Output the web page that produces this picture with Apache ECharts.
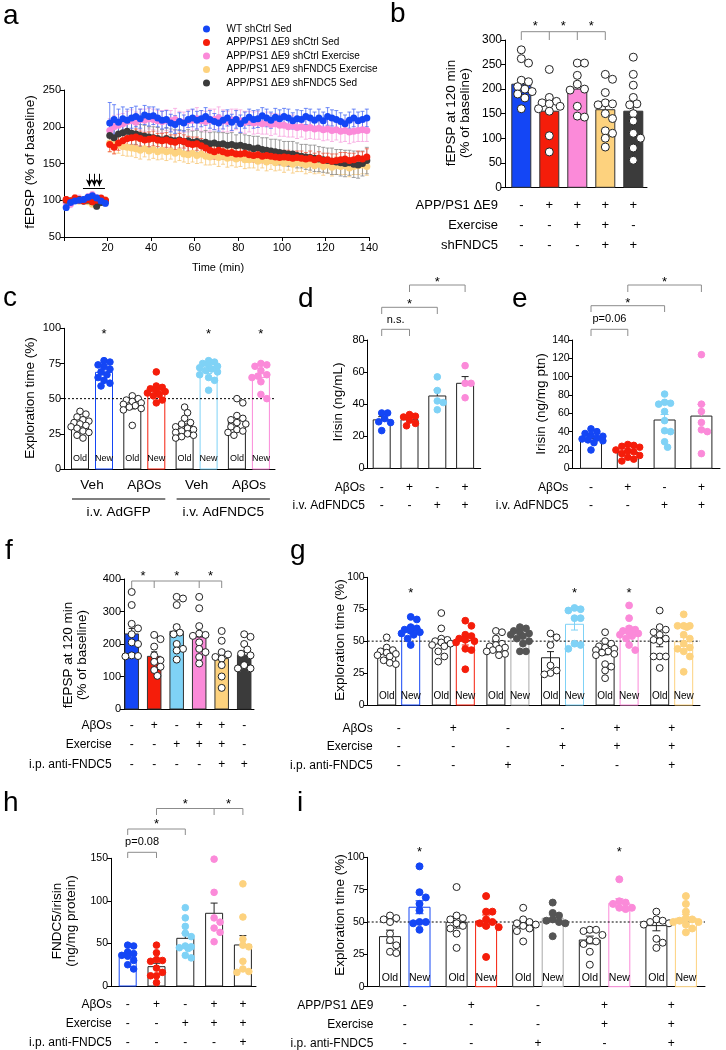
<!DOCTYPE html>
<html><head><meta charset="utf-8">
<script src="https://cdn.jsdelivr.net/npm/echarts@6/dist/echarts.min.js"></script>
<style>html,body{margin:0;padding:0;background:#fff}#c{width:726px;height:1050px}</style>
</head><body><div id="c"></div>
<script>
// ================= DATA =================
// Panel a: fEPSP time course (% of baseline)
const aNames = ['WT shCtrl Sed','APP/PS1 ΔE9 shCtrl Sed','APP/PS1 ΔE9 shCtrl Exercise','APP/PS1 ΔE9 shFNDC5 Exercise','APP/PS1 ΔE9 shFNDC5 Sed'];
const aTime = [1,3,5,7,9,11,13,15,17,19,
 21,23,25,27,29,31,33,35,37,39,41,43,45,47,49,51,53,55,57,59,
 61,63,65,67,69,71,73,75,77,79,81,83,85,87,89,91,93,95,97,99,
 101,103,105,107,109,111,113,115,117,119,121,123,125,127,129,131,133,135,137,139];
const aWT = [90,97,99,100,101,104,106,103,99,96,
 205,210,206,211,209,212,214,211,216,214,
 215,212,209,210,205,203,207,205,210,212,
 209,211,214,210,207,205,209,212,206,210,
 204,209,213,210,211,215,212,209,213,211,
 214,212,208,211,210,214,212,209,212,208,
 214,212,210,207,204,209,212,208,210,212];
const aWTsem = [4,4,3,3,4,3,4,4,3,4,
 28,20,18,16,15,14,14,13,13,13,
 12,12,12,12,12,12,12,11,11,12,
 12,11,12,12,11,11,12,11,11,12,
 12,11,11,12,12,11,12,11,12,12,
 11,12,11,12,12,11,12,11,12,12,
 12,11,12,12,12,11,12,12,11,12];
const aAD = [101,99,103,100,99,101,98,100,103,100,
 176,172,178,181,184,185,186,184,182,183,
 184,182,181,182,180,179,181,180,177,176,
 177,174,171,168,166,168,166,164,165,163,
 163,164,162,161,162,160,161,160,159,158,
 159,158,157,158,157,156,157,155,157,154,
 155,153,154,155,156,154,155,157,156,159];
const aADsem = [4,3,4,3,3,4,3,4,3,4,
 10,9,10,11,10,10,11,10,10,10,
 10,9,10,10,9,10,10,9,10,10,
 9,10,10,9,10,9,10,9,10,9,
 9,10,9,9,10,9,9,10,9,9,
 9,10,9,9,10,9,10,9,9,10,
 9,10,9,10,9,10,9,10,10,11];
const aADEx = [97,95,100,102,99,104,107,103,101,98,
 195,200,202,204,207,208,206,210,209,211,
 210,208,207,209,208,210,207,206,208,209,
 211,208,207,209,210,212,208,207,209,210,
 208,206,207,205,206,204,205,203,204,202,
 202,200,201,199,200,198,199,197,198,196,
 197,195,196,194,195,193,194,195,196,195];
const aADExSem = [5,5,4,5,4,5,5,4,5,5,
 16,15,15,14,14,15,14,14,15,14,
 14,14,15,14,14,15,14,14,15,14,
 15,14,14,15,14,15,15,14,15,14,
 15,15,14,15,15,14,15,15,14,15,
 15,14,15,15,14,15,15,14,15,15,
 15,15,14,15,15,16,15,15,16,15];
const aShEx = [100,98,101,99,100,98,95,93,97,100,
 178,176,175,173,172,171,170,168,170,167,
 169,166,168,166,167,164,166,163,162,164,
 161,163,160,159,161,158,160,157,159,156,
 158,155,155,156,153,155,152,154,151,153,
 150,152,149,151,150,148,150,147,149,146,
 148,145,147,146,147,144,146,147,148,146];
const aShExSem = [4,4,3,4,4,3,4,4,3,4,
 12,12,11,12,12,11,12,12,11,12,
 12,11,12,12,11,12,12,11,12,12,
 11,12,12,11,12,12,11,12,12,11,
 12,12,11,12,12,11,12,12,11,12,
 12,11,12,12,11,12,12,11,12,12,
 11,12,12,11,12,12,11,12,12,12];
const aShSed = [100,99,100,101,99,100,98,92,97,99,
 188,185,190,192,194,191,190,188,187,186,
 185,184,182,184,182,181,182,180,181,179,
 180,178,179,177,178,176,177,175,176,174,
 175,173,172,170,171,169,168,167,166,165,
 164,163,163,161,160,159,158,157,156,155,
 154,153,152,151,150,151,149,148,150,154];
const aShSedSem = [4,4,4,3,4,4,3,4,4,4,
 14,14,15,14,14,15,14,15,15,14,
 15,15,14,15,15,15,14,15,15,15,
 15,15,16,15,15,16,15,16,16,15,
 16,16,16,17,16,16,17,16,17,17,
 16,17,17,17,16,17,17,18,17,17,
 17,18,17,18,18,17,18,18,17,18];
const aStimTimes = [11.6, 13.9, 16.2];
const aStimBar = [8.7, 18.8];

// Panel b
const bRowNames = ['APP/PS1 ΔE9','Exercise','shFNDC5'];
const bRows = [['-','+','+','+','+'],['-','-','+','+','-'],['-','-','-','+','+']];
const bMeans = [210, 155, 200, 158, 155];
const bSem = [11, 15, 14, 13, 15];
const bPoints = [
 [280,262,253,218,215,205,200,195,190,182,160],
 [240,183,175,172,170,165,160,155,105,72],
 [253,253,228,210,200,198,165,145,143],
 [230,220,193,172,170,168,150,140,115,110,100,82],
 [265,230,208,183,170,168,150,135,110,100,80,55]];

// Panel c
const cBarLabels = ['Old','New','Old','New','Old','New','Old','New'];
const cGroupNames = ['Veh','AβOs','Veh','AβOs'];
const cTreatNames = ['i.v. AdGFP','i.v. AdFNDC5'];
const cMeans = [31.5, 68.7, 44.3, 55.4, 30.4, 69.6, 34.4, 65.1];
const cSem = [1.5, 1.8, 1.6, 1.7, 1.6, 1.8, 2.2, 2.6];
const cPoints = [
 [41,39,37,35,34,33,32,31,30,29,27,26,24,22],
 [77,76,74,73,71,69,67,65,63,61,59],
 [52,50,49,48,47,46,45,44,43,42,31],
 [69,59,58,57,56,55,54,53,52,49,47],
 [44,40,36,33,32,30,29,28,27,26,25,24,23,22],
 [77,76,75,74,73,72,71,70,69,67,65,63,56],
 [50,47,38,36,35,33,32,30,28,27,26,24],
 [75,74,73,70,67,66,65,62,53,50]];

// Panel d
const dRowNames = ['AβOs','i.v. AdFNDC5'];
const dRows = [['-','+','-','+'],['-','-','+','+']];
const dMeans = [30.2, 30.3, 45.1, 53.0];
const dSem = [2.0, 1.5, 3.8, 4.2];
const dPoints = [[34.5,34.5,31,29,28.5,23.5],[33.5,32.5,32,30,28,26.5],[57,48.5,42,41,36.5],[64,53,53,44]];

// Panel e
const eRowNames = ['AβOs','i.v. AdFNDC5'];
const eRows = [['-','+','-','+'],['-','-','+','+']];
const eMeans = [32.7, 17.4, 52.7, 57.0];
const eSem = [2.0, 1.8, 6.0, 12.8];
const ePoints = [[43,40,38,36,35,33,32,31,30,28,20],[26,25,24,23,20,19,18,16,14,12,10,8],[81,72,71,70,62,52,41,40,29,23],[124,70,62,50,42,40,16]];

// Panel f
const fRowNames = ['AβOs','Exercise','i.p. anti-FNDC5'];
const fRows = [['-','+','-','+','+','-'],['-','-','+','+','+','-'],['-','-','-','-','+','+']];
const fMeans = [231, 162, 239, 221.5, 155, 166];
const fSem = [17, 14, 20, 17, 15, 12];
const fPoints = [
 [360,320,262,248,230,205,200,165,163,162],
 [228,215,192,165,150,145,130,120,102],
 [345,340,320,252,235,230,200,185,180,152],
 [345,310,255,232,228,225,205,185,175,160,140],
 [240,210,175,168,160,155,135,100,65],
 [230,222,200,183,170,165,135,125,125]];

// Panel g
const gBarLabels = ['Old','New','Old','New','Old','New','Old','New','Old','New','Old','New'];
const gRowNames = ['AβOs','Exercise','i.p. anti-FNDC5'];
const gRows = [['-','+','-','-','+','+'],['-','-','-','+','+','+'],['-','-','+','-','-','+']];
const gMeans = [41.2, 58.5, 50.1, 50.5, 47.5, 53.2, 37.0, 63.2, 41.8, 58.5, 50.1, 49.5];
const gSem = [2.0, 2.0, 2.5, 3.5, 1.8, 2.0, 4.8, 4.5, 2.5, 3.0, 4.5, 3.5];
const gPoints = [
 [53,45,43,42,41,40,39,38,35,33,32],
 [69,67,61,60,59,58,57,56,55,52,47],
 [72,60,52,51,50,49,48,47,46,42,38,34],
 [66,62,55,54,52,51,50,49,44,43,28],
 [58,57,52,48,47,46,45,44,43,42,40,39],
 [61,60,58,57,56,55,54,52,50,48,42,42],
 [56,53,47,31,27,25,24],
 [76,75,74,68,68,48,47,44],
 [57,50,48,46,45,44,43,42,41,40,39,32,30,27,21],
 [78,68,60,59,58,57,56,55,54,52,47,43],
 [74,61,59,57,55,52,51,50,38,38,38,29],
 [71,62,62,62,61,55,52,48,45,44,42,38,26]];

// Panel h
const hRowNames = ['AβOs','Exercise','i.p. anti-FNDC5'];
const hRows = [['-','+','-','+','+'],['-','-','+','+','+'],['-','-','-','-','+']];
const hMeans = [33.7, 22.7, 56.0, 85.4, 48.2];
const hSem = [3.4, 4.0, 6.0, 12.0, 11.0];
const hPoints = [
 [48,47,40,38,36,35,30,25,20],
 [48,39,31,30,29,21,16,12,12,4],
 [92,80,70,62,58,47,46,45,44,36,33],
 [149,110,80,75,68,63,52],
 [120,81,55,48,46,29,20,17,16]];

// Panel i
const iBarLabels = ['Old','New','Old','New','Old','New','Old','New','Old','New'];
const iRowNames = ['APP/PS1 ΔE9','Exercise','i.p. anti-FNDC5'];
const iRows = [['-','+','-','+','+'],['-','-','-','+','+'],['-','-','+','-','+']];
const iMeans = [38.7, 61.4, 49.8, 50.8, 47.7, 52.9, 36.1, 64.5, 47.2, 52.9];
const iSem = [5.0, 5.0, 4.5, 4.6, 2.5, 2.5, 3.0, 3.5, 4.0, 3.0];
const iPoints = [
 [55,53,52,50,41,36,32,27,26],
 [93,73,69,64,59,50,50,49,44],
 [77,55,53,52,49,47,45,41,30],
 [70,58,58,52,50,49,47,46,23],
 [61,52,50,49,48,47,45,43,35],
 [65,57,55,52,51,50,49,39],
 [44,44,43,40,36,35,33,27,17],
 [83,66,65,64,61,61,60],
 [58,52,51,50,49,48,37,34,30],
 [70,64,58,53,52,51,50,50,48,45,42]];
const chanceLevel = 50;

// ================= STYLE / LAYOUT =================
const FF = '"Liberation Sans", Arial, Helvetica, sans-serif';
const BLUE='#1446f5', RED='#f51d0a', PINK='#fb8ad9', ORANGE='#fdd27e', DGREY='#3b3b3b',
      LBLUE='#7fd2f6', MGREY='#555555', LGREYO='#a8a8a8', K='#222222', W='#ffffff', BRK='#8c8c8c';

const grids=[], xAxes=[], yAxes=[], series=[], graphics=[];

function T(x,y,text,size,align,extra){
  return Object.assign({type:'text',x:x,y:y,silent:true,
    style:{text:text,fill:'#000',fontSize:size,fontFamily:FF,textAlign:align||'center',textVerticalAlign:'middle'}}, extra||{});
}
function L(x1,y1,x2,y2,c,w){return {type:'line',silent:true,shape:{x1:x1,y1:y1,x2:x2,y2:y2},style:{stroke:c,lineWidth:w||1}};}

function axisStyle(fs){
  return {
    axisLine:{show:true,onZero:false,lineStyle:{color:'#000',width:1}},
    axisTick:{show:true,length:4,lineStyle:{color:'#000',width:1}},
    axisLabel:{show:true,fontSize:fs,color:'#000',margin:3,fontFamily:FF},
    splitLine:{show:false}
  };
}

// beeswarm layout (pixel offsets), kept within about the bar width
function swarm(vals, ppu, r, half){
  const placed=[], offs=new Array(vals.length);
  const order = vals.map((v,k)=>k).sort((a,b)=>vals[b]-vals[a]);
  const d = 2*r*0.9, st = d*0.5;
  order.forEach(k=>{
    const y = vals[k]*ppu;
    let best = 0, bestScore = -1;
    for(let t=0;t<40;t++){
      const cand = t===0?0:((t%2)?1:-1)*Math.ceil(t/2)*st;
      if(Math.abs(cand) > half) break;
      let minD = Infinity;
      placed.forEach(p=>{ const q=Math.hypot(p.x-cand,p.y-y); if(q<minD) minD=q; });
      if(minD >= d){ best=cand; break; }
      if(minD > bestScore + 0.5){ bestScore=minD; best=cand; }
    }
    placed.push({x:best,y:y}); offs[k]=best;
  });
  return offs;
}

// ---------- Panel a ----------
(function(){
  const gi = grids.length;
  grids.push({left:64, top:90, width:305, height:147});
  const xs = axisStyle(11); xs.axisLabel.formatter = v => v===0 ? '' : String(v); xs.axisLabel.margin = 5;
  xAxes.push(Object.assign({gridIndex:gi,type:'value',min:0,max:140,interval:20}, xs));
  yAxes.push(Object.assign({gridIndex:gi,type:'value',min:50,max:250,interval:50}, axisStyle(11)));
  const sets = [
    {name:aNames[3], v:aShEx, s:aShExSem, color:ORANGE, err:'#f8c878', z:3},
    {name:aNames[2], v:aADEx, s:aADExSem, color:PINK, err:'#f7a3e0', z:4},
    {name:aNames[4], v:aShSed, s:aShSedSem, color:DGREY, err:'#8a8a8a', z:5},
    {name:aNames[1], v:aAD, s:aADsem, color:RED, err:'#f2553f', z:6},
    {name:aNames[0], v:aWT, s:aWTsem, color:BLUE, err:'#4a6cf5', z:7}
  ];
  sets.forEach(S=>{
    series.push({type:'custom', name:S.name+' SEM', xAxisIndex:gi, yAxisIndex:gi, z:1, silent:true, clip:false,
      data: aTime.map((t,k)=>[t, S.v[k], S.s[k]]),
      renderItem:(p,api)=>{
        const t=api.value(0), m=api.value(1), s=api.value(2);
        const a=api.coord([t,m+s]), b=api.coord([t,m-s]);
        return {type:'group',children:[L(a[0],a[1],b[0],b[1],S.err,0.8),L(a[0]-2,a[1],a[0]+2,a[1],S.err,0.8),L(b[0]-2,b[1],b[0]+2,b[1],S.err,0.8)]};
      }});
  });
  sets.forEach(S=>{
    const sr = {type:'scatter', name:S.name, xAxisIndex:gi, yAxisIndex:gi, z:S.z, symbol:'circle', symbolSize:7,
      itemStyle:{color:S.color, opacity:1}, data: aTime.map((t,k)=>[t, S.v[k]])};
    if(S.name===aNames[0]){
      sr.markLine = {silent:true, animation:false, symbol:['none','arrow'], symbolSize:[5,7], label:{show:false},
        lineStyle:{color:'#000', width:1, type:'solid'},
        data:[[{coord:[aStimBar[0],117],symbol:'none'},{coord:[aStimBar[1],117],symbol:'none'}]]
          .concat(aStimTimes.map(t=>[{coord:[t,136]},{coord:[t,119]}]))};
    }
    series.push(sr);
  });
  graphics.push(T(30,162,'fEPSP (% of baseline)',13.5,'center',{rotation:Math.PI/2}));
  graphics.push(T(218,268,'Time (min)',11));
})();

// ---------- generic bar panel ----------
function barPanel(P){
  const gi = grids.length;
  grids.push({left:P.x0, top:P.yTop, width:P.x1-P.x0, height:P.yBot-P.yTop});
  const pos = P.means.map((_,i)=> P.paired ? Math.floor(i/2)*(P.pairStep/P.step)+(i%2) : i);
  const xmin=(P.x0-P.c0)/P.step, xmax=(P.x1-P.c0)/P.step;
  const xs = axisStyle(10); xs.axisTick.show=false; xs.axisLabel.show=false;
  xAxes.push(Object.assign({gridIndex:gi,type:'value',min:xmin,max:xmax,position:'bottom'}, xs));
  yAxes.push(Object.assign({gridIndex:gi,type:'value',min:P.min,max:P.max,interval:P.interval,position:'left'}, axisStyle(P.tickFont)));
  const base = {xAxisIndex:gi, yAxisIndex:gi, silent:true, clip:false};
  // bars
  series.push(Object.assign({type:'custom', z:2, data:P.means.map((m,i)=>[pos[i],m,i]),
    renderItem:(p,api)=>{
      const i=api.value(2), top=api.coord([api.value(0),api.value(1)]), bot=api.coord([api.value(0),P.min]);
      const ch=[{type:'rect',shape:{x:top[0]-P.barW/2,y:top[1],width:P.barW,height:bot[1]-top[1]},
        style:{fill:P.fills[i],stroke:P.strokes[i],lineWidth:1}}];
      if(P.labels) ch.push(T(top[0], P.labelY, P.labels[i], P.labelFont));
      return {type:'group',children:ch};
    }}, base));
  // reference line
  if(P.refLine!=null){
    series.push({type:'line', xAxisIndex:gi, yAxisIndex:gi, z:3, silent:true, symbol:'none', animation:false,
      data:[[xmin,P.refLine],[xmax,P.refLine]], lineStyle:{color:'#000',width:1,type:[2,2]}});
  }
  // error bars
  series.push(Object.assign({type:'custom', z:4, data:P.means.map((m,i)=>[pos[i],m,P.sems[i],i]),
    renderItem:(p,api)=>{
      const x=api.value(0), m=api.value(1), s=api.value(2), i=api.value(3);
      const pm=api.coord([x,m]), pt=api.coord([x,m+s]), pb=api.coord([x,m-s]);
      const col=P.errColor[i], cw=P.capW/2;
      const ch=[L(pm[0],pt[1],pm[0],P.errDir==='both'?pb[1]:pm[1],col), L(pm[0]-cw,pt[1],pm[0]+cw,pt[1],col)];
      if(P.errDir==='both') ch.push(L(pm[0]-cw,pb[1],pm[0]+cw,pb[1],col));
      return {type:'group',children:ch};
    }}, base));
  // dots
  const ppu=(P.yBot-P.yTop)/(P.max-P.min);
  const dd=[];
  P.points.forEach((arr,i)=>{ const offs=swarm(arr,ppu,P.r,P.barW/2+P.r*0.8); arr.forEach((v,k)=>dd.push([pos[i],v,offs[k],i])); });
  series.push(Object.assign({type:'custom', z:5, data:dd,
    renderItem:(p,api)=>{
      const c=api.coord([api.value(0),api.value(1)]), i=api.value(3);
      return {type:'circle',shape:{cx:c[0]+api.value(2),cy:c[1],r:P.r},style:{fill:P.dotFill[i],stroke:P.dotStroke[i],lineWidth:1}};
    }}, base));
  // annotations: brackets, stars, table
  series.push(Object.assign({type:'custom', z:6, data:[[pos[0],P.min]],
    renderItem:(p,api)=>{
      const X = i => api.coord([pos[i],P.min])[0];
      const ch=[];
      (P.brackets||[]).forEach(b=>{
        const xs=b.drops.map(X);
        ch.push(L(xs[0],b.y,xs[xs.length-1],b.y,BRK));
        xs.forEach(x=>ch.push(L(x,b.y,x,b.dropTo,BRK)));
        b.labels.forEach((t,k)=>{
          const xm=(xs[k]+xs[k+1])/2;
          ch.push(t==='*' ? T(xm,b.labelY+3,t,13) : T(xm,b.labelY,t,11));
        });
      });
      if(P.stars) P.stars.idx.forEach(i=>ch.push(T(X(i),P.stars.y+3,'*',13)));
      if(P.rows){
        P.rows.forEach((row,r)=>row.forEach((s,c)=>{
          const x = P.paired ? (X(2*c)+X(2*c+1))/2 : X(c);
          ch.push(T(x,P.rowY[r],s,P.rowFont));
        }));
        P.rowNames.forEach((nm,r)=>ch.push(T(P.rowLabelX,P.rowY[r],nm,P.rowFont,'right')));
      }
      return {type:'group',children:ch};
    }}, base));
  // y label
  graphics.push(T(P.ylabelX,P.ylabelY,P.ylabel,P.ylabelFont||13.5,'center',{rotation:Math.PI/2,style:{text:P.ylabel,fill:'#000',fontSize:P.ylabelFont||13.5,fontFamily:FF,textAlign:'center',textVerticalAlign:'middle',textLineHeight:14}}));
  return pos;
}

const rep = (v,n)=>Array.from({length:n},()=>v);

// b
barPanel({x0:505,x1:647,yTop:40,yBot:187.3,min:0,max:300,interval:50,c0:521.3,step:28,barW:19,capW:8,
  means:bMeans,sems:bSem,points:bPoints,fills:[BLUE,RED,PINK,ORANGE,DGREY],strokes:rep('#333',5),
  dotFill:rep(W,5),dotStroke:rep(K,5),r:4,errDir:'up',errColor:rep(K,5),tickFont:12,
  ylabel:'fEPSP at 120 min\n(% of baseline)',ylabelX:458.5,ylabelY:113,
  rows:bRows,rowNames:bRowNames,rowY:[205.7,225,245],rowLabelX:498,rowFont:13,
  brackets:[{drops:[0,1,2,3],y:31.7,dropTo:40,labels:['*','*','*'],labelY:23.3}]});

// c
barPanel({x0:64,x1:275,yTop:328.3,yBot:469,min:0,max:100,interval:25,c0:80,step:24,paired:true,pairStep:52.3,barW:17,capW:7,
  means:cMeans,sems:cSem,points:cPoints,fills:rep(W,8),
  strokes:[K,BLUE,K,RED,K,LBLUE,K,PINK],dotFill:[W,BLUE,W,RED,W,LBLUE,W,PINK],dotStroke:[K,BLUE,K,RED,K,LBLUE,K,PINK],
  r:3.3,errDir:'both',errColor:[K,BLUE,K,RED,K,LBLUE,K,PINK],tickFont:11,refLine:chanceLevel,
  labels:cBarLabels,labelY:459,labelFont:9,stars:{idx:[1,5,7],y:331.7},
  ylabel:'Exploration time (%)',ylabelX:30,ylabelY:398});
(function(){
  const pc = p => 80 + p*52.3 + 12;
  cGroupNames.forEach((g,p)=>graphics.push(T(pc(p),485,g,13.5)));
  cTreatNames.forEach((t,k)=>{
    const a=pc(2*k)-20, b=pc(2*k+1)+21;
    graphics.push(L(a,499,b,499,'#000',1.2));
    graphics.push(T((a+b)/2,512,t,13.5));
  });
})();

// d
barPanel({x0:367.7,x1:480.7,yTop:340,yBot:468.3,min:0,max:80,interval:20,c0:381.7,step:27.8,barW:17,capW:7,
  means:dMeans,sems:dSem,points:dPoints,fills:rep(W,4),strokes:rep(K,4),
  dotFill:[BLUE,RED,LBLUE,PINK],dotStroke:[BLUE,RED,LBLUE,PINK],r:3.3,errDir:'up',errColor:rep(K,4),tickFont:11,
  ylabel:'Irisin (ng/mL)',ylabelX:338.3,ylabelY:402,
  rows:dRows,rowNames:dRowNames,rowY:[487.3,506],rowLabelX:365,rowFont:12,
  brackets:[{drops:[0,1],y:329.3,dropTo:336,labels:['n.s.'],labelY:320},
            {drops:[0,2],y:307.3,dropTo:314,labels:['*'],labelY:301.7},
            {drops:[1,3],y:285,dropTo:292,labels:['*'],labelY:279}]});

// e
barPanel({x0:572.7,x1:720,yTop:340,yBot:468.3,min:0,max:140,interval:20,c0:591,step:36.8,barW:21,capW:8,
  means:eMeans,sems:eSem,points:ePoints,fills:rep(W,4),strokes:rep(K,4),
  dotFill:[BLUE,RED,LBLUE,PINK],dotStroke:[BLUE,RED,LBLUE,PINK],r:3.3,errDir:'up',errColor:[BLUE,RED,LBLUE,PINK],tickFont:10.5,
  ylabel:'Irisin (ng/mg ptn)',ylabelX:541.7,ylabelY:404,
  rows:eRows,rowNames:eRowNames,rowY:[487.3,506],rowLabelX:568.3,rowFont:12,
  brackets:[{drops:[0,1],y:329.3,dropTo:336,labels:['p=0.06'],labelY:319.3},
            {drops:[0,2],y:305.7,dropTo:312,labels:['*'],labelY:300},
            {drops:[1,3],y:285,dropTo:292,labels:['*'],labelY:279}]});

// f
barPanel({x0:124,x1:254,yTop:579,yBot:709,min:0,max:400,interval:100,c0:131.7,step:22.5,barW:13.5,capW:6,
  means:fMeans,sems:fSem,points:fPoints,fills:[BLUE,RED,LBLUE,PINK,ORANGE,DGREY],strokes:rep('#333',6),
  dotFill:rep(W,6),dotStroke:rep(K,6),r:3.5,errDir:'up',errColor:rep(K,6),tickFont:11,
  ylabel:'fEPSP at 120 min\n(% of baseline)',ylabelX:75,ylabelY:655,
  rows:fRows,rowNames:fRowNames,rowY:[726,745,764.5],rowLabelX:111.7,rowFont:12,
  brackets:[{drops:[0,1,3,4],y:581,dropTo:588,labels:['*','*','*'],labelY:573.3}]});

// g
barPanel({x0:367.7,x1:700,yTop:577.3,yBot:705,min:0,max:100,interval:25,c0:386.7,step:24,paired:true,pairStep:54.6,barW:18,capW:7,
  means:gMeans,sems:gSem,points:gPoints,fills:rep(W,12),
  strokes:[K,BLUE,K,RED,K,LGREYO,K,LBLUE,K,PINK,K,ORANGE],
  dotFill:[W,BLUE,W,RED,W,MGREY,W,LBLUE,W,PINK,W,ORANGE],
  dotStroke:[K,BLUE,K,RED,K,MGREY,K,LBLUE,K,PINK,K,ORANGE],
  r:3.4,errDir:'both',errColor:[K,BLUE,K,RED,K,LGREYO,K,LBLUE,K,PINK,K,ORANGE],tickFont:10.5,refLine:chanceLevel,
  labels:gBarLabels,labelY:696.7,labelFont:10,stars:{idx:[1,7,9],y:590},
  ylabel:'Exploration time (%)',ylabelX:340,ylabelY:640,
  rows:gRows,rowNames:gRowNames,rowY:[728.3,746.7,765.7],rowLabelX:372.7,rowFont:12});

// h
barPanel({x0:111,x1:256,yTop:858.3,yBot:986,min:0,max:150,interval:50,c0:127.7,step:28.8,barW:17,capW:7,
  means:hMeans,sems:hSem,points:hPoints,fills:rep(W,5),strokes:[BLUE,K,K,K,K],
  dotFill:[BLUE,RED,LBLUE,PINK,ORANGE],dotStroke:[BLUE,RED,LBLUE,PINK,ORANGE],r:3.3,errDir:'up',errColor:[BLUE,K,K,K,K],tickFont:10.5,
  ylabel:'FNDC5/irisin\n(ng/mg protein)',ylabelX:64,ylabelY:921,
  rows:hRows,rowNames:hRowNames,rowY:[1004.3,1023.3,1042.7],rowLabelX:111.7,rowFont:12,
  brackets:[{drops:[0,1],y:852.3,dropTo:858,labels:['p=0.08'],labelY:841.7},
            {drops:[0,2],y:829,dropTo:835,labels:['*'],labelY:821.7},
            {drops:[1,3,4],y:808.5,dropTo:815,labels:['*','*'],labelY:801.7}]});

// i
barPanel({x0:367.7,x1:705,yTop:857.3,yBot:986.7,min:0,max:100,interval:25,c0:390,step:29.5,paired:true,pairStep:66.6,barW:21,capW:8,
  means:iMeans,sems:iSem,points:iPoints,fills:rep(W,10),
  strokes:[K,BLUE,K,RED,K,LGREYO,K,PINK,K,ORANGE],
  dotFill:[W,BLUE,W,RED,W,MGREY,W,PINK,W,ORANGE],
  dotStroke:[K,BLUE,K,RED,K,MGREY,K,PINK,K,ORANGE],
  r:3.5,errDir:'both',errColor:[K,BLUE,K,RED,K,LGREYO,K,PINK,K,ORANGE],tickFont:10.5,refLine:chanceLevel,
  labels:iBarLabels,labelY:978.3,labelFont:10.5,stars:{idx:[1,7],y:849},
  ylabel:'Exploration time (%)',ylabelX:340,ylabelY:915,
  rows:iRows,rowNames:iRowNames,rowY:[1006,1024.3,1043.3],rowLabelX:373.3,rowFont:12});

// panel letters
[['a',3,25],['b',390,23],['c',3,307],['d',298,308],['e',512,308],['f',5,560],['g',290,560],['h',3,812],['i',297,812]]
  .forEach(([t,x,y])=>graphics.push(T(x,y-9,t,28,'left')));

const chart = echarts.init(document.getElementById('c'), null, {renderer:'canvas', width:726, height:1050});
chart.setOption({
  animation:false,
  backgroundColor:'#fff',
  textStyle:{fontFamily:FF},
  grid:grids, xAxis:xAxes, yAxis:yAxes, series:series,
  legend:{data:aNames, orient:'vertical', left:203, top:24, padding:0, itemWidth:30, itemHeight:7, itemGap:3.5,
    icon:'circle', selectedMode:false, textStyle:{fontSize:10, color:'#000', fontFamily:FF, lineHeight:10}},
  graphic:{elements:graphics}
});
</script></body></html>
